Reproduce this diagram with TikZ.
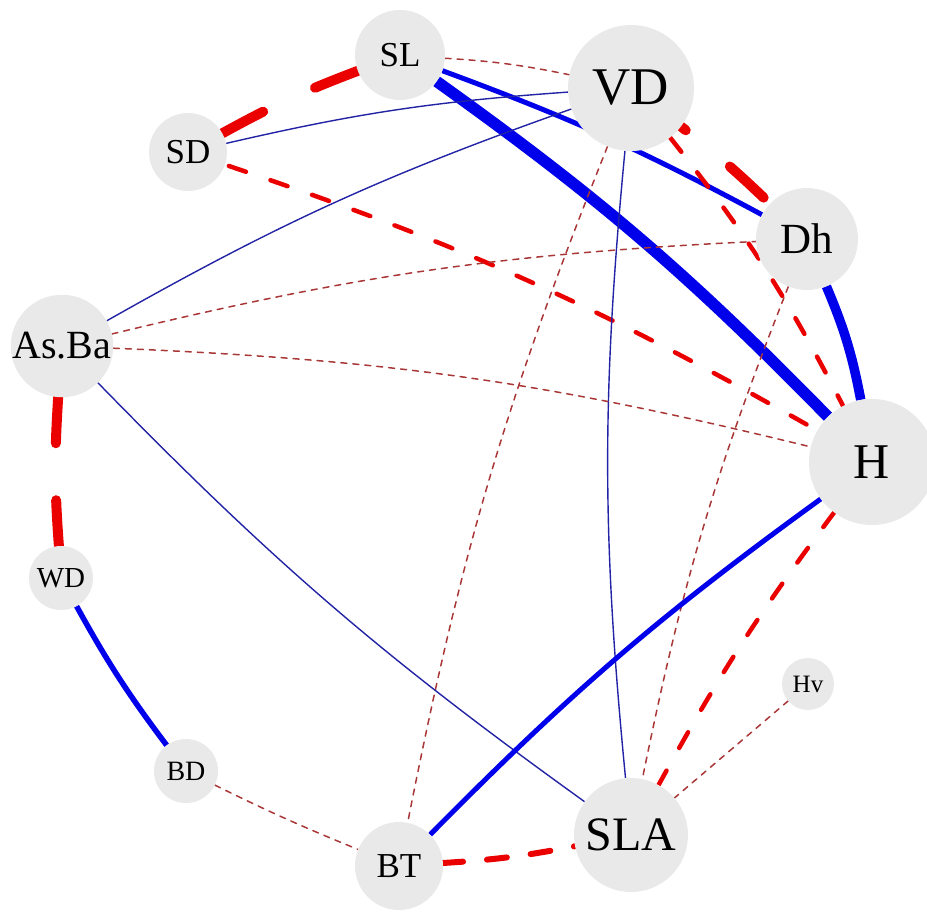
\documentclass[tikz,border=0pt]{standalone}
\usepackage{fontspec}
\setmainfont{Liberation Serif}
\pgfdeclarelayer{bg}
\pgfsetlayers{bg,main}
\definecolor{nodegray}{RGB}{233,233,233}
\definecolor{eblue}{RGB}{0,0,235}
\definecolor{tblue}{RGB}{35,35,165}
\definecolor{ered}{RGB}{235,0,0}
\definecolor{tred}{RGB}{170,55,55}
\tikzset{
  vtx/.style={circle,fill=nodegray,inner sep=0pt,text=black},
  thinblue/.style={draw=tblue,line width=1.4pt},
  blueline/.style={draw=eblue,line width=#1},
  thinred/.style={draw=tred,line width=1.5pt,line cap=round,dash pattern=on 6pt off 6pt},
  medred/.style={draw=ered,line width=4.5pt,line cap=round,dash pattern=on 18pt off 26pt},
  thickred/.style={draw=ered,line width=10pt,line cap=round,dash pattern=on 46pt off 57pt},
}
\newcommand{\fs}[1]{\fontsize{#1}{#1}\selectfont}
\begin{document}
\begin{tikzpicture}[x=1pt,y=1pt]
\useasboundingbox (0,0) rectangle (927,-911);
% nodes
\node[vtx,minimum size=90pt]  (SL)   at (400,-55)  {\fs{35}SL};
\node[vtx,minimum size=126pt] (VD)   at (631,-88)  {\fs{53}VD};
\node[vtx,minimum size=78pt]  (SD)   at (188,-152) {\fs{35}SD};
\node[vtx,minimum size=102pt] (Dh)   at (807,-239) {\fs{43}Dh};
\node[vtx,minimum size=102pt] (AsBa) at (62,-346)  {\fs{40}As.Ba};
\node[vtx,minimum size=126pt] (H)    at (872,-462) {\fs{50}H};
\node[vtx,minimum size=64pt]  (WD)   at (61,-578)  {\fs{29}WD};
\node[vtx,minimum size=52pt]  (Hv)   at (808,-684) {\fs{25}Hv};
\node[vtx,minimum size=64pt]  (BD)   at (186,-771) {\fs{28}BD};
\node[vtx,minimum size=114pt] (SLA)  at (631,-835) {\fs{48}SLA};
\node[vtx,minimum size=88pt]  (BT)   at (399,-866) {\fs{35}BT};
% edges
\begin{pgfonlayer}{bg}
\draw[thickred] (SL) to[bend right=4] (SD);
\draw[thinred] (SL) to[bend left=4] (VD);
\draw[blueline=11.5pt] (SL) to[bend left=5] (H);
\draw[blueline=5pt] (SL) to[bend left=4] (Dh);
\draw[thinblue] (SD) to[bend left=4.5] (VD);
\draw[thinblue] (AsBa) to[bend left=5] (VD);
\draw[medred,dash phase=40pt] (SD) to[bend left=5.5] (H);
\draw[thickred,dash phase=40pt] (VD) to[bend left=3] (Dh);
\draw[medred] (VD) to[bend left=5.5] (H);
\draw[thinred] (VD) to[bend right=5.3] (BT);
\draw[thinblue] (VD) to[bend right=5.5] (SLA);
\draw[blueline=9.5pt] (Dh) to[bend left=6] (H);
\draw[thinred] (AsBa) to[bend left=5.4] (Dh);
\draw[thinred] (Dh) to[bend right=5] (SLA);
\draw[thinred] (AsBa) to[bend left=5.7] (H);
\draw[thinblue] (AsBa) to[bend right=5] (SLA);
\draw[thickred] (AsBa) to[bend right=4] (WD);
\draw[blueline=5.5pt] (WD) to[bend right=4] (BD);
\draw[thinred] (BD) to[bend right=2] (BT);
\draw[draw=ered,line width=6pt,line cap=round,dash pattern=on 20pt off 24pt] (BT) to[bend right=3.7] (SLA);
\draw[blueline=5pt] (BT) to[bend left=4.7] (H);
\draw[medred] (H) to[bend right=4] (SLA);
\draw[thinred] (Hv) -- (SLA);
\end{pgfonlayer}
\end{tikzpicture}
\end{document}
